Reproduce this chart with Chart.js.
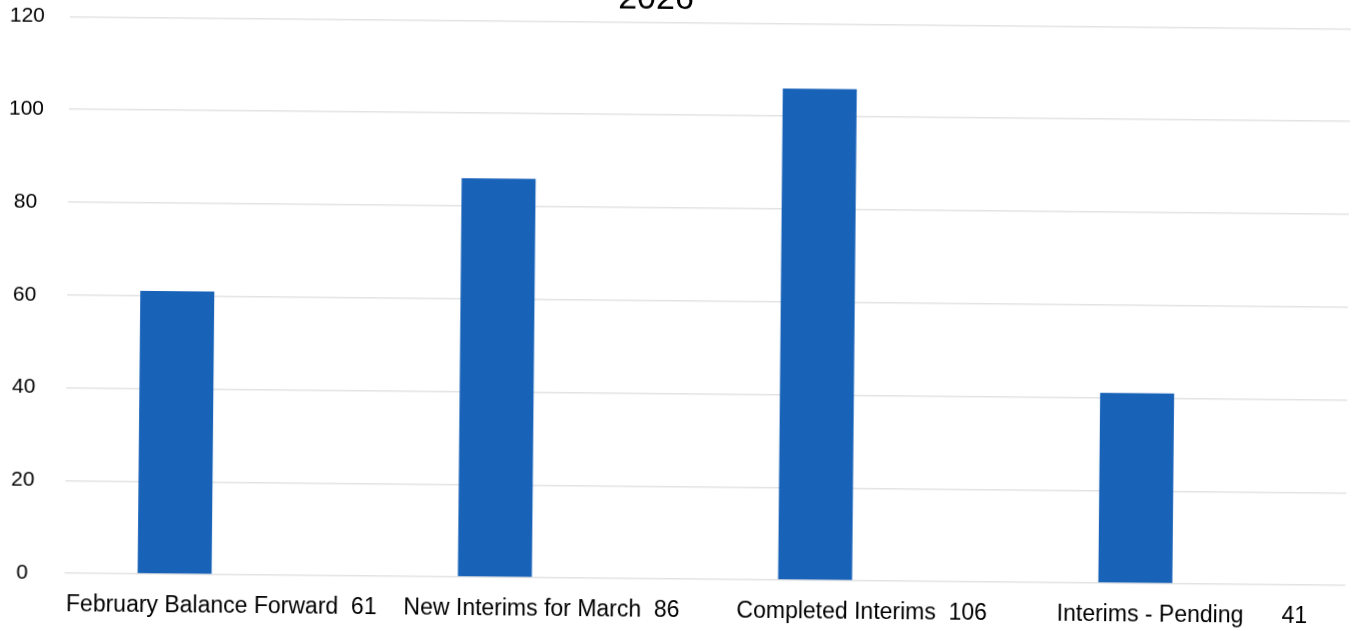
<!DOCTYPE html>
<html>
<head>
<meta charset="utf-8">
<script src="https://cdn.jsdelivr.net/npm/chart.js@4/dist/chart.umd.min.js"></script>
<style>
  html, body { margin: 0; padding: 0; background: #ffffff; overflow: hidden; }
  #wrap {
    position: relative; width: 1352px; height: 631px;
    transform: rotate(0.55deg); transform-origin: 676px 315px;
  }
  #title {
    position: absolute; left: 0; width: 1306px; top: -20px;
    text-align: center; font: 34px/34px "Liberation Sans", Arial, sans-serif; color: #000;
  }
  canvas { position: absolute; left: 0; top: 0; }
</style>
</head>
<body>
<div id="wrap">
  <canvas id="c" width="1352" height="631"></canvas>
  <div id="title">2026</div>
</div>
<script>
// ---- data ----
const categories = [
  'February Balance Forward  61',
  'New Interims for March  86',
  'Completed Interims  106',
  'Interims - Pending      41'
];
const interimCounts = [61, 86, 106, 41];
const secondSeries = [null, null, null, null]; // empty second series (Excel cluster slot)
const yTicks = [0, 20, 40, 60, 80, 100, 120];

const FONT = '"Liberation Sans", Arial, sans-serif';

new Chart(document.getElementById('c'), {
  type: 'bar',
  data: {
    labels: categories,
    datasets: [
      {
        label: 'Interims',
        data: interimCounts,
        backgroundColor: '#1862b8',
        borderWidth: 0,
        categoryPercentage: 0.6245,
        barPercentage: 0.74
      },
      {
        label: '',
        data: secondSeries,
        backgroundColor: '#e97132',
        borderWidth: 0,
        categoryPercentage: 0.6245,
        barPercentage: 0.74
      }
    ]
  },
  options: {
    responsive: false,
    animation: false,
    devicePixelRatio: 1,
    layout: { padding: { top: 22.5, right: 4, bottom: 0, left: 0 } },
    plugins: {
      legend: { display: false },
      tooltip: { enabled: false },
      title: { display: false }
    },
    scales: {
      x: {
        grid: { display: false, drawTicks: false, tickLength: 0 },
        border: { display: false },
        ticks: {
          color: '#000',
          font: { family: FONT, size: 23 },
          padding: 18,
          labelOffset: -3,
          maxRotation: 0,
          minRotation: 0,
          autoSkip: false
        },
        afterFit: (s) => { s.height = 52; }
      },
      y: {
        min: yTicks[0],
        max: yTicks[yTicks.length - 1],
        afterBuildTicks: (s) => { s.ticks = yTicks.map(v => ({ value: v })); },
        grid: { color: '#e3e3e3', lineWidth: 1.5, drawTicks: true, tickLength: 25, tickColor: 'rgba(0,0,0,0)' },
        border: { display: false },
        ticks: {
          color: '#000',
          font: { family: FONT, size: 21 },
          padding: 0,
          crossAlign: 'center'
        },
        afterFit: (s) => { s.width = 67; }
      }
    }
  }
});
</script>
</body>
</html>
